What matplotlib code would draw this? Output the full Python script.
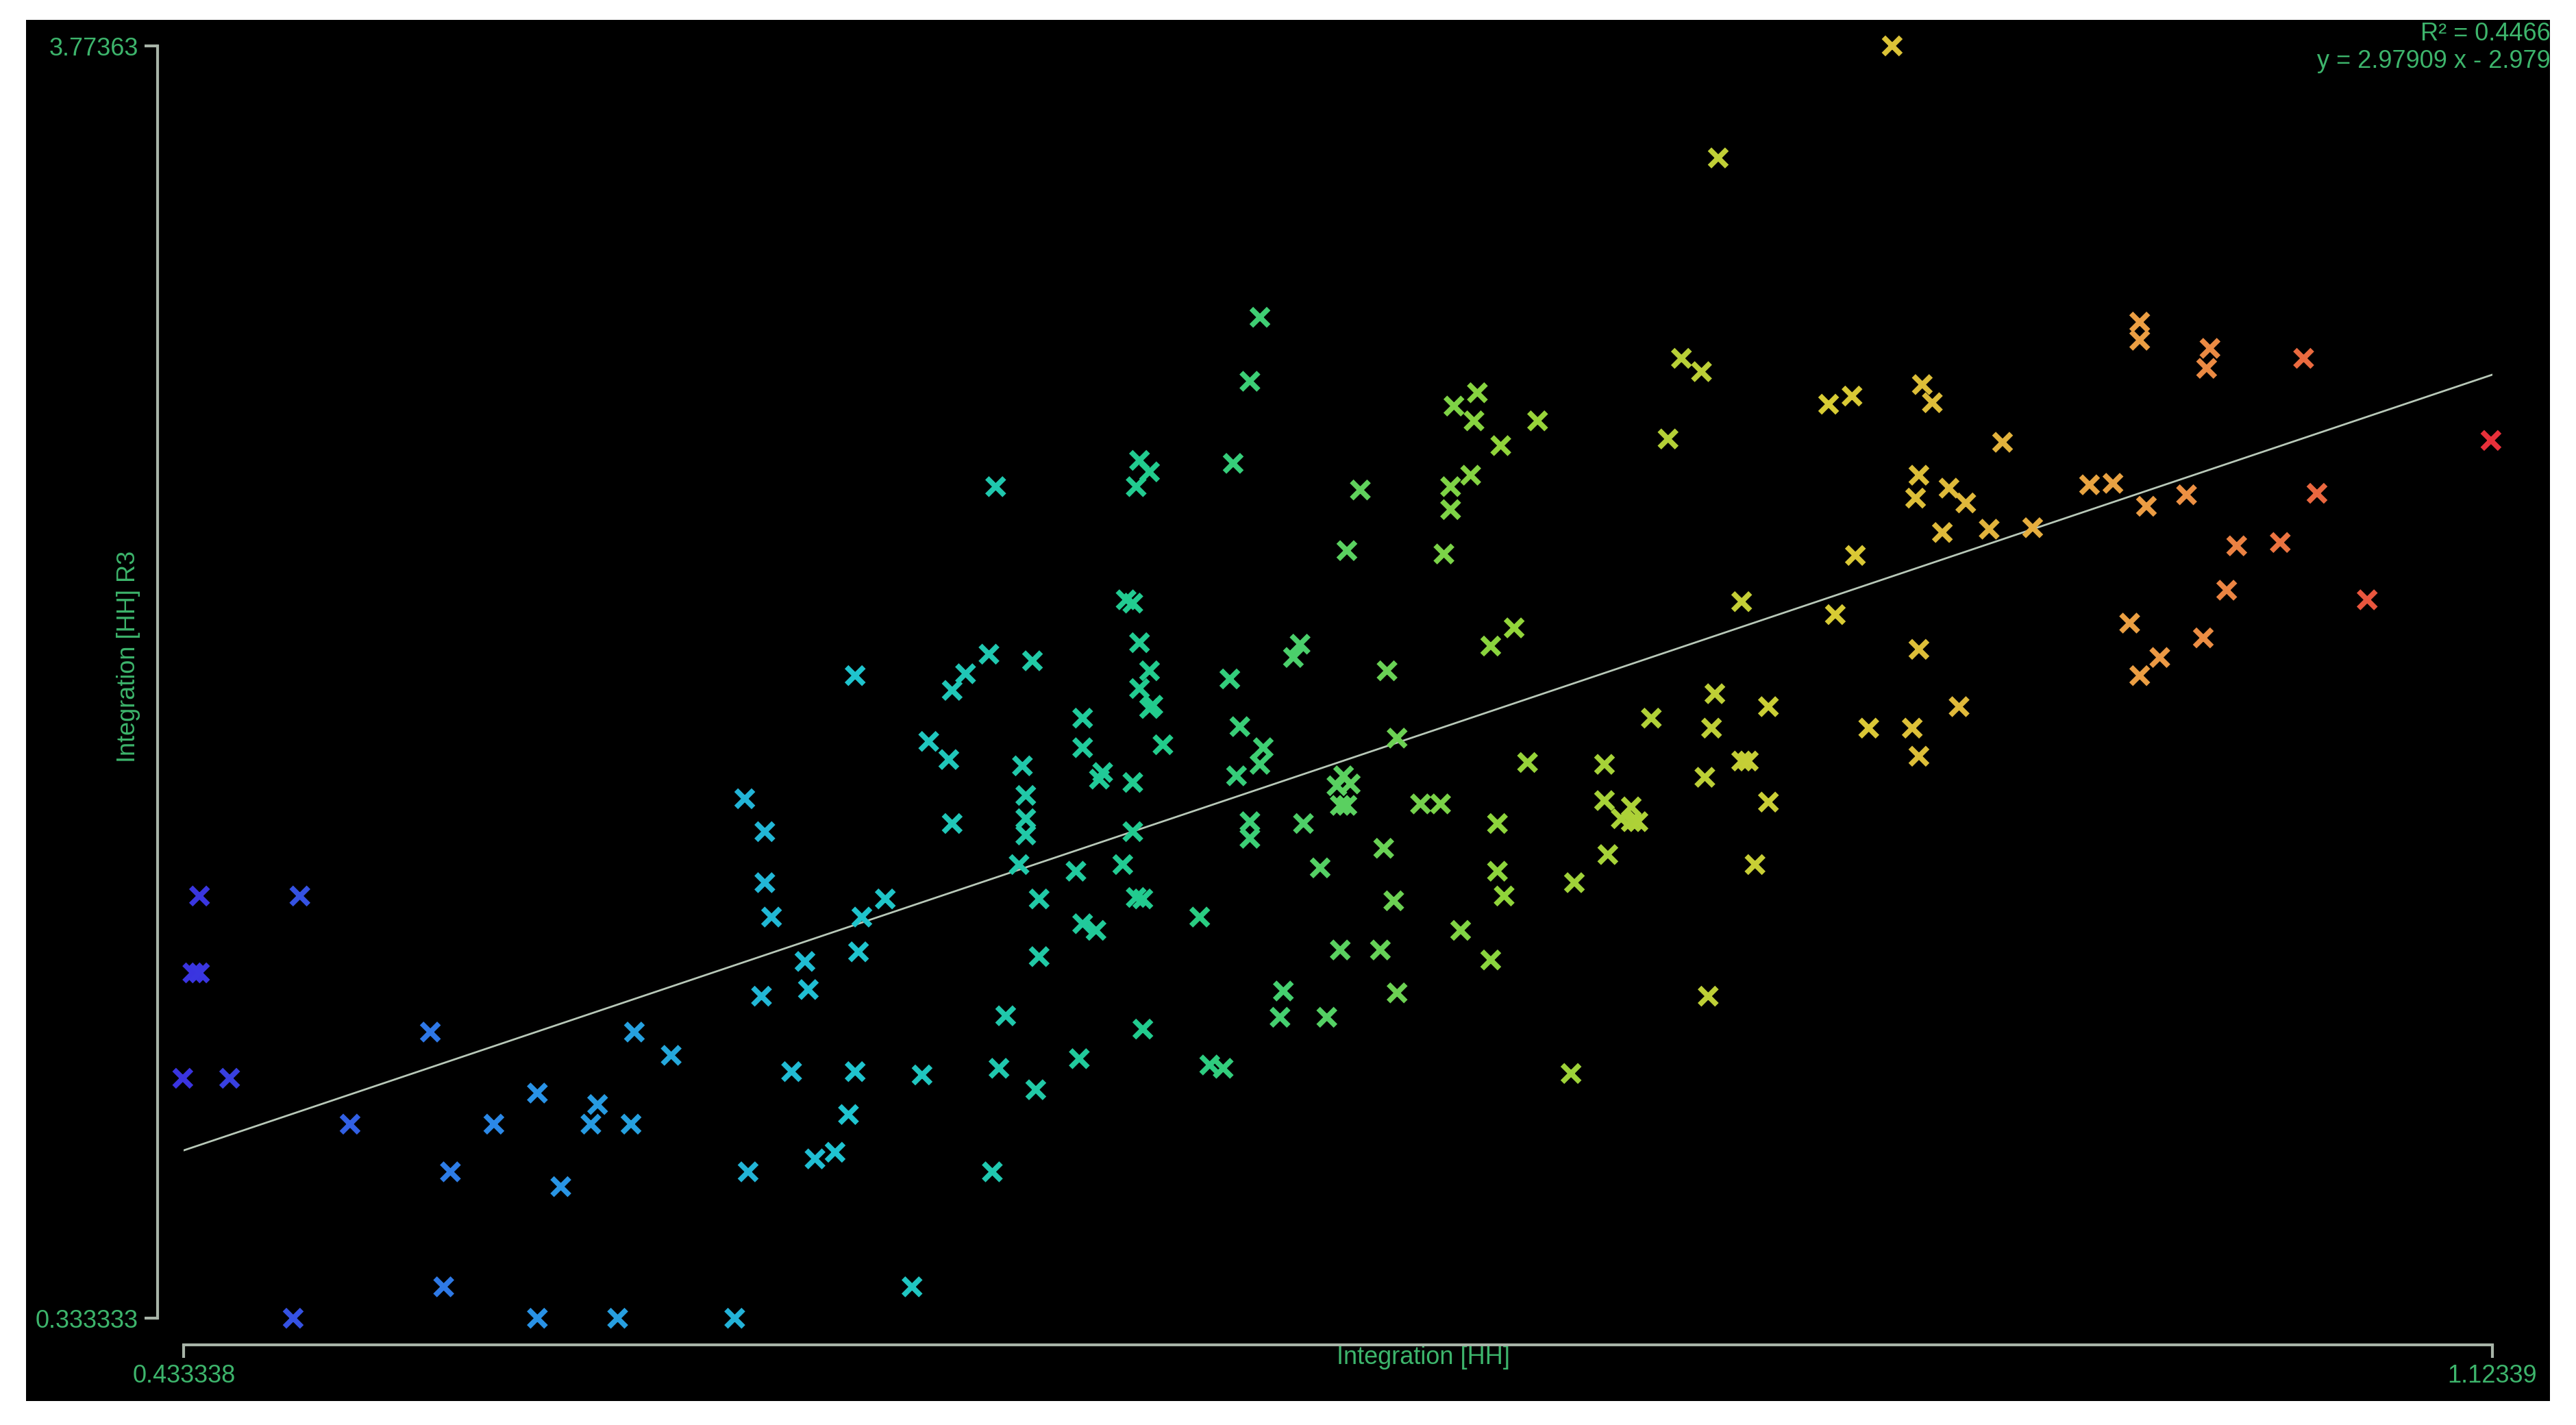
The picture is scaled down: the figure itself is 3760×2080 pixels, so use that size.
import numpy as np
import matplotlib
matplotlib.use("Agg")
import matplotlib.pyplot as plt
from matplotlib.colors import LinearSegmentedColormap

# Integration [HH] vs Integration [HH] R3
x_vals = [0.433, 0.436, 0.438, 0.438, 0.447, 0.468, 0.466, 0.483, 0.507, 0.511,
          0.513, 0.526, 0.539, 0.539, 0.546, 0.555, 0.557, 0.563, 0.567, 0.568,
          0.579, 0.598, 0.601, 0.602, 0.607, 0.607, 0.606, 0.609, 0.615, 0.619,
          0.620, 0.622, 0.628, 0.632, 0.634, 0.634, 0.635, 0.636, 0.643, 0.651,
          0.654, 0.656, 0.662, 0.663, 0.663, 0.667, 0.674, 0.675, 0.676, 0.677,
          0.679, 0.683, 0.684, 0.685, 0.685, 0.685, 0.687, 0.688, 0.689, 0.689,
          0.701, 0.700, 0.702, 0.702, 0.702, 0.706, 0.707, 0.708, 0.714, 0.715,
          0.717, 0.717, 0.717, 0.718, 0.719, 0.718, 0.720, 0.719, 0.719, 0.722,
          0.722, 0.722, 0.723, 0.720, 0.726, 0.737, 0.740, 0.744, 0.746, 0.747,
          0.748, 0.749, 0.752, 0.752, 0.752, 0.755, 0.755, 0.756, 0.761, 0.762,
          0.765, 0.767, 0.768, 0.773, 0.775, 0.778, 0.780, 0.779, 0.781, 0.779,
          0.781, 0.782, 0.785, 0.791, 0.792, 0.793, 0.795, 0.796, 0.796, 0.803,
          0.809, 0.810, 0.812, 0.812, 0.813, 0.815, 0.818, 0.820, 0.819, 0.824,
          0.824, 0.826, 0.826, 0.827, 0.828, 0.831, 0.835, 0.838, 0.848, 0.849,
          0.858, 0.858, 0.859, 0.863, 0.866, 0.866, 0.868, 0.872, 0.877, 0.881,
          0.887, 0.888, 0.889, 0.890, 0.891, 0.892, 0.899, 0.899, 0.901, 0.903,
          0.907, 0.907, 0.925, 0.927, 0.932, 0.933, 0.937, 0.944, 0.950, 0.951,
          0.952, 0.952, 0.952, 0.953, 0.956, 0.959, 0.961, 0.964, 0.966, 0.973,
          0.977, 0.986, 1.003, 1.010, 1.015, 1.018, 1.018, 1.018, 1.020, 1.024,
          1.032, 1.037, 1.038, 1.039, 1.044, 1.047, 1.060, 1.067, 1.071, 1.086,
          1.123]
y_vals = [0.982, 1.267, 1.267, 1.475, 0.982, 1.475, 0.333, 0.858, 1.107, 0.418,
          0.729, 0.858, 0.942, 0.333, 0.689, 0.858, 0.911, 0.333, 0.858, 1.107,
          1.044, 0.333, 1.738, 0.729, 1.649, 1.511, 1.204, 1.418, 1.000, 1.298,
          1.222, 0.764, 0.782, 0.884, 2.071, 1.000, 1.324, 1.418, 1.467, 0.418,
          0.991, 1.893, 1.844, 2.031, 1.671, 2.076, 2.129, 0.729, 2.582, 1.009,
          1.151, 1.560, 1.827, 1.747, 1.684, 1.640, 2.111, 0.951, 1.467, 1.311,
          1.035, 1.542, 1.956, 1.876, 1.400, 1.382, 1.791, 1.809, 1.560, 2.276,
          2.267, 1.782, 1.649, 2.582, 2.653, 1.471, 1.467, 2.160, 2.036, 2.622,
          2.084, 1.982, 1.991, 1.115, 1.884, 1.418, 1.018, 1.009, 2.062, 2.645,
          1.800, 1.933, 2.867, 1.676, 1.631, 3.040, 1.831, 1.876, 1.147, 1.218,
          2.120, 2.156, 1.671, 1.551, 1.147, 1.773, 1.800, 1.720, 1.720, 1.329,
          2.409, 1.778, 2.573, 1.329, 1.604, 2.084, 1.462, 1.902, 1.213, 1.724,
          1.724, 2.400, 2.582, 2.520, 2.800, 1.382, 2.613, 2.836, 2.760, 2.151,
          1.302, 1.671, 1.542, 2.693, 1.475, 2.200, 1.836, 2.760, 0.995, 1.511,
          1.733, 1.831, 1.587, 1.684, 1.716, 1.676, 1.676, 1.956, 2.711, 2.929,
          2.893, 1.796, 1.204, 1.929, 2.022, 3.471, 2.271, 1.840, 1.840, 1.560,
          1.987, 1.729, 2.805, 2.236, 2.827, 2.396, 1.929, 3.774, 1.929, 2.551,
          2.613, 2.142, 1.853, 2.858, 2.809, 2.458, 2.578, 1.987, 2.538, 2.467,
          2.702, 2.471, 2.587, 2.591, 2.213, 2.978, 3.027, 2.071, 2.529, 2.120,
          2.560, 2.173, 2.902, 2.956, 2.302, 2.422, 2.431, 2.929, 2.564, 2.276,
          2.707]

x_min, x_max = 0.433338, 1.12339
y_min, y_max = 0.333333, 3.77363
x_label = "Integration [HH]"
y_label = "Integration [HH] R3"
r2_text = "R² = 0.4466"
eq_text = "y = 2.97909 x - 2.979"

x = np.array(x_vals)
y = np.array(y_vals)

txt_col = "#3db56c"
axis_col = "#a8b4a8"
cmap = LinearSegmentedColormap.from_list(
    "rb", ["#3a34e0", "#2a8ee8", "#1fc4d0", "#22cc88", "#8fd43a",
           "#d8cc34", "#ec9a44", "#e8303a"])

plt.rcParams['font.family'] = ['Liberation Sans', 'DejaVu Sans']

fig = plt.figure(figsize=(37.6, 20.8), dpi=100, facecolor="white")
# black panel
bg = fig.add_axes([0.0102, 0.017, 0.9796, 0.969])
bg.set_facecolor("black")
bg.set_xticks([]); bg.set_yticks([])
for s in bg.spines.values():
    s.set_visible(False)

ax = fig.add_axes([0.0714, 0.075, 0.8961, 0.8927])
ax.set_facecolor("none")
ax.set_xlim(x_min, x_max)
ax.set_ylim(y_min, y_max)

ax.scatter(x, y, c=(x - x_min) / (x_max - x_min), cmap=cmap, vmin=0, vmax=1,
           marker="x", s=330, linewidths=5.5, clip_on=False, zorder=3)

k, b = np.polyfit(x, y, 1)
xl = np.array([x_min, x_max])
ax.plot(xl, k * xl + b, color="#b8c8b8", lw=2, zorder=2)

for side in ("top", "right"):
    ax.spines[side].set_visible(False)
ax.spines["left"].set_position(("outward", 28))
ax.spines["bottom"].set_position(("outward", 28))
ax.spines["left"].set_bounds(y_min, y_max)
ax.spines["bottom"].set_bounds(x_min, x_max)
for side in ("left", "bottom"):
    ax.spines[side].set_color(axis_col)
    ax.spines[side].set_linewidth(3)

ax.set_xticks([x_min, x_max], ["0.433338", "1.12339"])
ax.set_yticks([y_min, y_max], ["0.333333", "3.77363"])
ax.tick_params(colors=axis_col, labelcolor=txt_col, labelsize=26,
               length=14, width=3, pad=6)

ax.set_xlabel(x_label, color=txt_col, fontsize=26, va="center")
ax.set_ylabel(y_label, color=txt_col, fontsize=26, va="center")
ax.xaxis.set_label_coords(0.537, -0.031)
ax.yaxis.set_label_coords(-0.024, 0.52)

fig.text(0.99, 0.976, r2_text, color=txt_col, fontsize=26, ha="right", va="center")
fig.text(0.99, 0.957, eq_text, color=txt_col, fontsize=26, ha="right", va="center")

fig.savefig("out.png", dpi=100, facecolor="white")
